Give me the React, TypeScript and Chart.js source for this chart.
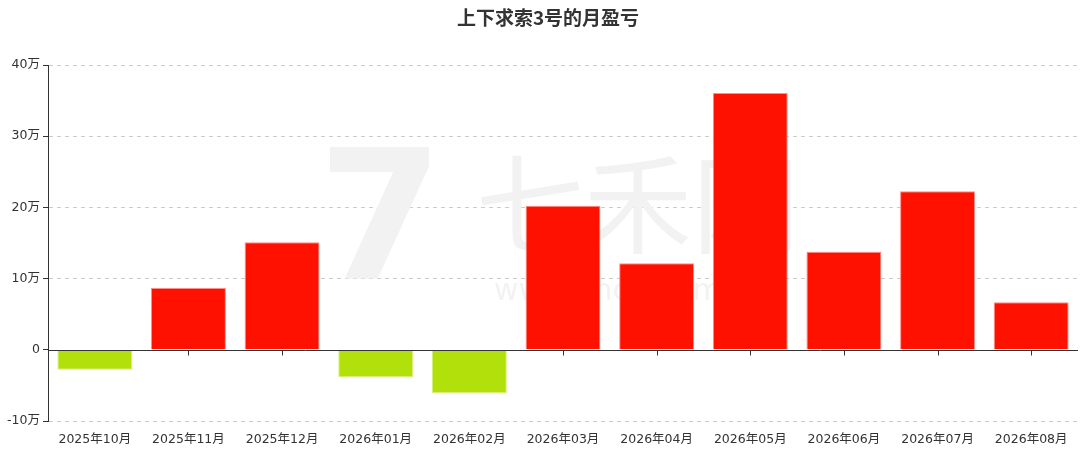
import { useEffect, useRef } from "react"
import { Chart, registerables } from "chart.js"

Chart.register(...registerables)

const title = "上下求索3号的月盈亏"

const months = [
  "2025年10月",
  "2025年11月",
  "2025年12月",
  "2026年01月",
  "2026年02月",
  "2026年03月",
  "2026年04月",
  "2026年05月",
  "2026年06月",
  "2026年07月",
  "2026年08月",
]

// monthly profit / loss (yuan)
const profit = [-28000, 86700, 151000, -38700, -61100, 202300, 121500, 360500, 137600, 222800, 66900]

const yMin = -100000
const yMax = 400000
const yStep = 100000

const upColor = "#ff1100"
const downColor = "#b2e00a"

const labelFont = "'DejaVu Sans', 'Noto Sans CJK SC'"

// title, placed like the ECharts original (a bit right of the canvas centre)
const titlePlugin = {
  id: "topTitle",
  afterDraw(chart: any) {
    const { ctx } = chart
    ctx.save()
    ctx.fillStyle = "#333"
    ctx.textAlign = "center"
    ctx.textBaseline = "middle"
    ctx.font = "bold 19px 'Noto Sans CJK SC', 'DejaVu Sans'"
    ctx.fillText(title, 548, 18)
    ctx.restore()
  },
}

// x tick marks under the zero line, behind the bars
const zeroTicksPlugin = {
  id: "zeroTicks",
  beforeDatasetsDraw(chart: any) {
    const { ctx, scales } = chart
    const y0 = Math.round(scales.y.getPixelForValue(0)) + 0.5
    ctx.save()
    ctx.strokeStyle = "#333"
    ctx.lineWidth = 1
    ctx.beginPath()
    months.forEach((_, i) => {
      const x = Math.round(scales.x.getPixelForValue(i)) + 0.5
      ctx.moveTo(x, y0)
      ctx.lineTo(x, y0 + 5)
    })
    ctx.stroke()
    ctx.restore()
  },
}

// x axis line drawn on zero
const zeroLinePlugin = {
  id: "zeroLine",
  afterDatasetsDraw(chart: any) {
    const { ctx, chartArea, scales } = chart
    const y0 = Math.round(scales.y.getPixelForValue(0)) + 0.5
    ctx.save()
    ctx.strokeStyle = "#333"
    ctx.lineWidth = 1
    ctx.beginPath()
    ctx.moveTo(chartArea.left, y0)
    ctx.lineTo(chartArea.right, y0)
    ctx.stroke()
    ctx.restore()
  },
}

// faint site watermark behind the bars
const watermarkPlugin = {
  id: "watermark",
  beforeDatasetsDraw(chart: any) {
    const { ctx } = chart
    ctx.save()
    ctx.fillStyle = "#f2f2f2"
    ctx.textBaseline = "middle"
    ctx.textAlign = "left"
    ctx.font = "bold 180px 'DejaVu Sans'"
    ctx.fillText("7", 318, 232)
    ctx.font = "108px 'Noto Sans CJK SC'"
    ctx.fillText("七禾网", 476, 204)
    ctx.font = "30px 'DejaVu Sans'"
    ctx.fillText("www.7hcn.com", 494, 292)
    ctx.restore()
  },
}

export default function App() {
  const canvasRef = useRef<HTMLCanvasElement>(null)
  const chartRef = useRef<Chart | null>(null)

  useEffect(() => {
    if (!canvasRef.current) return
    if (chartRef.current) chartRef.current.destroy()

    const ctx = canvasRef.current.getContext("2d")
    if (!ctx) return

    chartRef.current = new Chart(ctx, {
      type: "bar",
      data: {
        labels: months,
        datasets: [
          {
            label: "月盈亏",
            data: profit,
            backgroundColor: profit.map((v) => (v >= 0 ? upColor : downColor)),
            borderColor: profit.map((v) => (v >= 0 ? "#ff8c85" : "#d6f07a")),
            borderWidth: 1,
            borderSkipped: "start",
            barPercentage: 0.8,
            categoryPercentage: 1,
          },
        ],
      },
      options: {
        responsive: true,
        maintainAspectRatio: false,
        animation: false,
        layout: { padding: { left: 0, right: 8, top: 65, bottom: 0 } },
        scales: {
          x: {
            grid: { display: false },
            border: { display: false },
            ticks: {
              color: "#333",
              padding: 3,
              autoSkip: false,
              maxRotation: 0,
              font: { size: 12.5, family: labelFont },
            },
            afterFit: (scale: any) => {
              scale.height = 29
            },
          },
          y: {
            min: yMin,
            max: yMax,
            ticks: {
              stepSize: yStep,
              color: "#333",
              padding: 3,
              font: { size: 12.5, family: labelFont },
              callback: (v: any) => (v === 0 ? "0" : `${v / 10000}万`),
            },
            grid: {
              color: (c: any) => (c.tick && c.tick.value === 0 ? "rgba(0,0,0,0)" : "#ccc"),
              tickColor: "#333",
              tickLength: 5,
            },
            border: { display: true, color: "#333", width: 1, dash: [4, 4] },
            afterFit: (scale: any) => {
              scale.width = 48
            },
          },
        },
        plugins: {
          legend: { display: false },
          tooltip: { enabled: false },
          title: { display: false },
        },
      },
      plugins: [watermarkPlugin, zeroTicksPlugin, zeroLinePlugin, titlePlugin],
    })

    return () => {
      if (chartRef.current) {
        chartRef.current.destroy()
        chartRef.current = null
      }
    }
  }, [])

  return (
    <div style={{ position: "absolute", left: 0, top: 0, width: 1086, height: 450, background: "#fff" }}>
      <canvas ref={canvasRef} />
    </div>
  )
}
